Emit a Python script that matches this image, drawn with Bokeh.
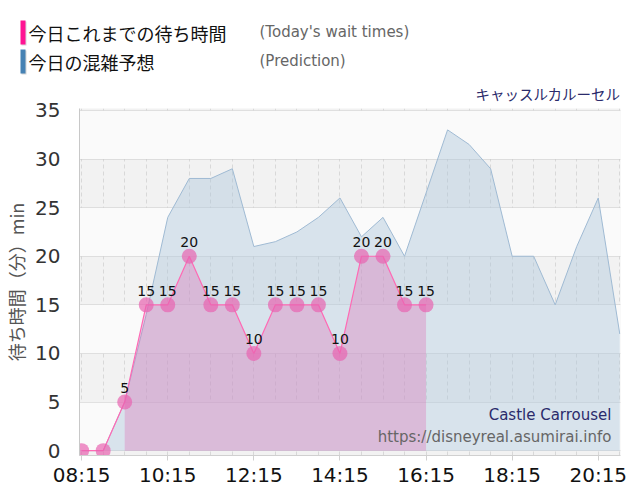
from bokeh.plotting import figure
from bokeh.models import ColumnDataSource, FixedTicker, Label, Range1d, Title
from bokeh.layouts import column, row
from bokeh.core.properties import value
from bokeh.embed import file_html
from bokeh.resources import INLINE

# today's actual waits (every 30 min)
wait_times = ["08:15", "08:45", "09:15", "09:45", "10:15", "10:45", "11:15", "11:45", "12:15",
              "12:45", "13:15", "13:45", "14:15", "14:45", "15:15", "15:45", "16:15"]
wait_vals = [0, 0, 5, 15, 15, 20, 15, 15, 10, 15, 15, 15, 10, 20, 20, 15, 15]

# prediction curve
pred_times = ["08:15", "08:45", "09:15", "09:45", "10:15", "10:45", "11:15", "11:45", "12:15",
              "12:45", "13:15", "13:45", "14:15", "14:45", "15:15", "15:45", "16:15", "16:45",
              "17:15", "17:45", "18:15", "18:45", "19:15", "19:45", "20:15", "20:45"]
pred_vals = [0, 0, 5, 14, 24, 28, 28, 29, 21, 21.5, 22.5, 24, 26, 22, 24, 20, 26.5, 33,
             31.5, 29, 20, 20, 15, 21, 26, 12]

x_labels = ["08:15", "10:15", "12:15", "14:15", "16:15", "18:15", "20:15"]
y_ticks = [0, 5, 10, 15, 20, 25, 30, 35]

series_names = ["今日これまでの待ち時間", "今日の混雑予想"]
series_notes = ["(Today's wait times)", "(Prediction)"]
series_colors = ["#ff1493", "#4682b4"]

jp = "Noto Sans CJK JP"


def to_min(t):
    h, m = t.split(":")
    return int(h) * 60 + int(m)


wx = [to_min(t) for t in wait_times]
px = [to_min(t) for t in pred_times]

# ---- header: legend rows in pixel coordinates ----
hdr = figure(width=640, height=75, output_backend="svg", toolbar_location=None,
             x_range=Range1d(0, 640), y_range=Range1d(75, 0),
             x_axis_type=None, y_axis_type=None,
             min_border_left=0, min_border_right=0, min_border_top=0, min_border_bottom=0)
hdr.grid.visible = False
hdr.outline_line_color = None
hdr.background_fill_color = "white"

row_y = [32, 61]
hdr.quad(left=[21] * 2, right=[26] * 2, top=[y - 11 for y in row_y], bottom=[y + 13 for y in row_y],
         fill_color="#bbbbbb", line_color=None, fill_alpha=0.6)
hdr.quad(left=[20] * 2, right=[25] * 2, top=[y - 12 for y in row_y], bottom=[y + 12 for y in row_y],
         fill_color=series_colors, line_color=None)
for y, name, note in zip(row_y, series_names, series_notes):
    hdr.add_layout(Label(x=28, y=y, text=name, text_font=jp, text_font_size="18px",
                         text_color="#111111", text_baseline="middle"))
    hdr.add_layout(Label(x=259, y=y - 1, text=note, text_font="DejaVu Sans", text_font_size="15px",
                         text_color="#666666", text_baseline="middle"))

# ---- main chart ----
p = figure(width=640, height=425, output_backend="svg", toolbar_location=None,
           x_range=Range1d(to_min("08:12"), to_min("20:46")), y_range=Range1d(-0.5, 35.2),
           min_border_left=78, min_border_right=20, min_border_top=33, min_border_bottom=45)
p.outline_line_color = None
p.background_fill_color = "#f2f2f2"
p.border_fill_color = "white"

p.add_layout(Title(text="キャッスルカルーセル", align="right", text_font=jp, text_font_size="14.5px",
                   text_color="#2b2b6b", text_font_style="normal", standoff=9), "above")

# grid
p.ygrid.ticker = FixedTicker(ticks=y_ticks)
p.ygrid.grid_line_color = "#c8c8c8"
p.ygrid.grid_line_dash = "1 1"
p.ygrid.band_fill_color = "#fafafa"
p.ygrid.band_fill_alpha = 1.0
p.xgrid.ticker = FixedTicker(ticks=list(range(to_min("08:15"), to_min("20:46"), 30)))
p.xgrid.grid_line_color = "#d8d8d8"
p.xgrid.grid_line_dash = "4 3"

# axes
p.yaxis.ticker = FixedTicker(ticks=y_ticks)
p.yaxis.axis_line_color = "#c8c8c8"
p.yaxis.major_tick_line_color = None
p.yaxis.minor_tick_line_color = None
p.yaxis.major_label_text_font = "DejaVu Sans"
p.yaxis.major_label_text_font_size = "20px"
p.yaxis.major_label_text_color = "#333333"
p.yaxis.major_label_standoff = 13
p.yaxis.axis_label = "待ち時間（分）min"
p.yaxis.axis_label_text_font = jp
p.yaxis.axis_label_text_font_size = "18px"
p.yaxis.axis_label_text_font_style = "normal"
p.yaxis.axis_label_text_color = "#555555"
p.yaxis.axis_label_standoff = 3

tick_vals = [to_min(t) for t in x_labels]
p.xaxis.ticker = FixedTicker(ticks=tick_vals)
p.xaxis.major_label_overrides = {v: t for v, t in zip(tick_vals, x_labels)}
p.xaxis.axis_line_color = "#d0d0d0"
p.xaxis.major_tick_line_color = "#d0d0d0"
p.xaxis.major_tick_in = 0
p.xaxis.major_tick_out = 5
p.xaxis.minor_tick_line_color = None
p.xaxis.major_label_text_font = "DejaVu Sans"
p.xaxis.major_label_text_font_size = "20px"
p.xaxis.major_label_text_color = "#111111"
p.xaxis.major_label_standoff = 2

# prediction area
p.varea(x=px, y1=0, y2=pred_vals, fill_color="#b0c8dc", fill_alpha=0.45)
p.line(px, pred_vals, line_color="#9fbad3", line_width=1)

# today's waits
p.varea(x=wx[2:], y1=0, y2=wait_vals[2:], fill_color="#e070b8", fill_alpha=0.35)
p.line(wx, wait_vals, line_color="#ff69b4", line_width=1.2)
p.scatter(wx, wait_vals, size=15, fill_color="#e864b0", fill_alpha=0.7, line_color=None)

lab = ColumnDataSource(dict(x=[x for x, v in zip(wx, wait_vals) if v > 0],
                            y=[v for v in wait_vals if v > 0],
                            t=[str(v) for v in wait_vals if v > 0]))
p.text(x="x", y="y", text="t", source=lab, text_align="center", text_baseline="bottom",
       y_offset=-9, text_font=value("DejaVu Sans"), text_font_size="14px", text_color="#111111")

# watermark (screen units from the frame's lower-left corner)
p.add_layout(Label(x=532, y=41, x_units="screen", y_units="screen", text="Castle Carrousel",
                   text_font="DejaVu Sans", text_font_size="15px", text_color="#2b2b6b",
                   text_align="right", text_baseline="middle"))
p.add_layout(Label(x=532, y=19, x_units="screen", y_units="screen",
                   text="https://disneyreal.asumirai.info",
                   text_font="DejaVu Sans", text_font_size="15px", text_color="#666666",
                   text_align="right", text_baseline="middle"))

open("out.html", "w").write(file_html(column(row(hdr), p), INLINE))
